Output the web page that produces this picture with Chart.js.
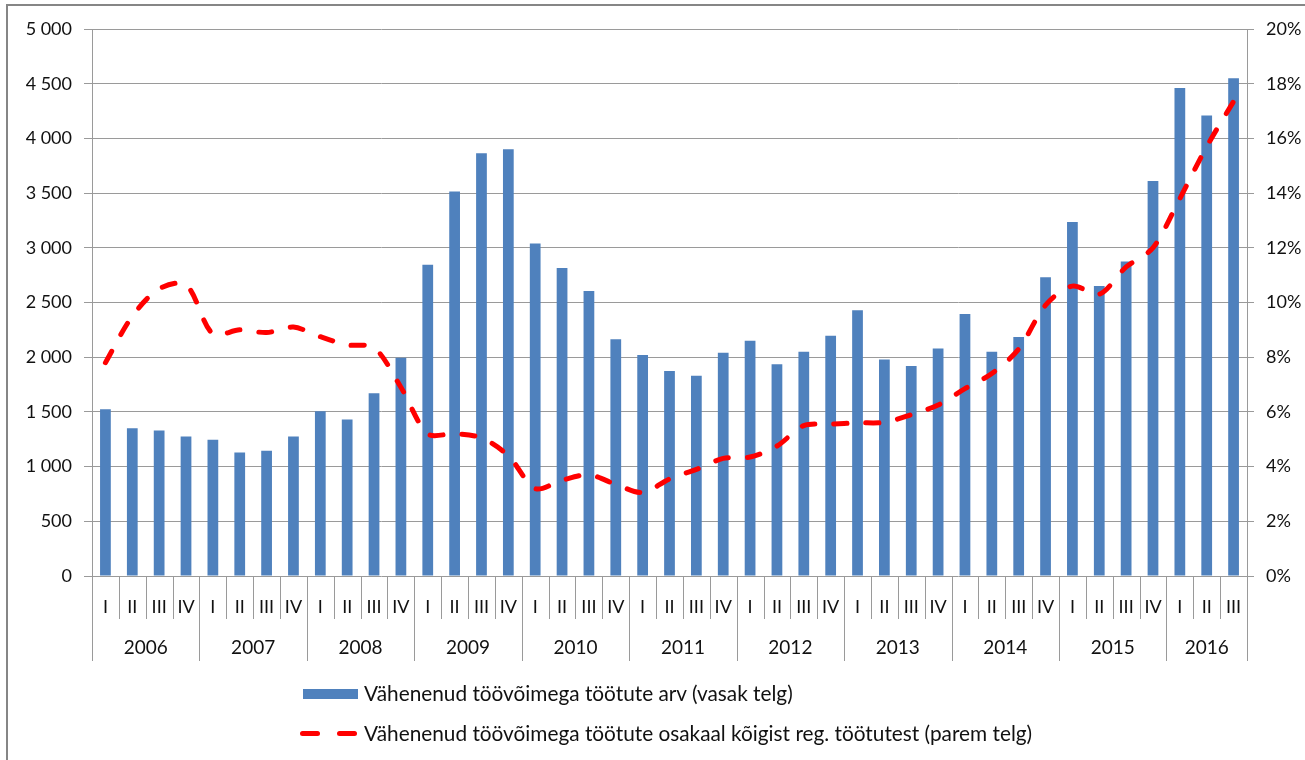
<!DOCTYPE html>
<html><head><meta charset="utf-8">
<script src="https://cdn.jsdelivr.net/npm/chart.js@4.4.0/dist/chart.umd.min.js"></script>
<style>
html,body{margin:0;padding:0;background:#fff;}
#wrap{position:relative;width:1305px;height:760px;overflow:hidden;background:#fff;}
#frame{position:absolute;left:6px;top:4px;width:1400px;height:800px;border-left:2px solid #868686;border-top:2px solid #868686;pointer-events:none;}
#c{position:absolute;left:0;top:0;}
.lg{position:absolute;left:0;top:0;font-family:Lato,sans-serif;font-size:20.8px;color:#111;white-space:nowrap;}
</style></head>
<body><div id="wrap"><canvas id="c" width="1305" height="760"></canvas><div id="frame"></div><div id="legend"></div></div>
<script>
const quarterLabels = ['I','II','III','IV','I','II','III','IV','I','II','III','IV','I','II','III','IV','I','II','III','IV','I','II','III','IV','I','II','III','IV','I','II','III','IV','I','II','III','IV','I','II','III','IV','I','II','III'];
const yearLabels = ['2006','2007','2008','2009','2010','2011','2012','2013','2014','2015','2016'];
const quartersPerYear = [4,4,4,4,4,4,4,4,4,4,3];
const countValues = [1525,1350,1330,1275, 1245,1130,1145,1275, 1505,1430,1670,1995, 2845,3515,3865,3900, 3040,2815,2605,2165, 2020,1875,1830,2040, 2150,1935,2050,2195, 2430,1980,1920,2080, 2395,2050,2185,2730, 3235,2650,2875,3610, 4460,4210,4550];
const shareValues = [7.8,9.5,10.5,10.65, 8.85,9.0,8.9,9.1, 8.75,8.45,8.35,6.9, 5.2,5.2,5.05,4.4, 3.2,3.5,3.7,3.35, 3.05,3.55,3.9,4.3, 4.35,4.75,5.5,5.55, 5.6,5.62,5.9,6.25, 6.85,7.4,8.3,9.9, 10.6,10.3,11.3,12.0, 13.8,15.7,17.35];
const leftTicks = ['0','500','1 000','1 500','2 000','2 500','3 000','3 500','4 000','4 500','5 000'];
const rightTicks = ['0%','2%','4%','6%','8%','10%','12%','14%','16%','18%','20%'];
const seriesNames = ['Vähenenud töövõimega töötute arv (vasak telg)','Vähenenud töövõimega töötute osakaal kõigist reg. töötutest (parem telg)'];

const GRID = '#9a9a9a';
const FONT = 'Lato';

const yearRowPlugin = {
  id: 'yearRow',
  afterDraw(chart) {
    const x = chart.scales.x, ctx = chart.ctx, b = chart.chartArea.bottom;
    ctx.save();
    ctx.strokeStyle = GRID; ctx.lineWidth = 1;
    const yearEdges = new Set();
    let idx = 0; yearEdges.add(-0.5);
    quartersPerYear.forEach(n => { idx += n; yearEdges.add(idx - 0.5); });
    for (let i = 0; i <= quarterLabels.length; i++) {
      const px = Math.round(x.getPixelForValue(i - 0.5)) + 0.5;
      const end = yearEdges.has(i - 0.5) ? b + 85 : b + 43;
      ctx.beginPath(); ctx.moveTo(px, b); ctx.lineTo(px, end); ctx.stroke();
    }
    ctx.fillStyle = '#111'; ctx.font = '19px ' + FONT; ctx.textAlign = 'center'; ctx.textBaseline = 'middle';
    let start = 0;
    yearLabels.forEach((yl, k) => {
      const n = quartersPerYear[k];
      const cx = (x.getPixelForValue(start - 0.5) + x.getPixelForValue(start + n - 0.5)) / 2;
      ctx.fillText(yl, cx, b + 72);
      start += n;
    });
    ctx.restore();
  }
};

const chart = new Chart(document.getElementById('c'), {
  type: 'bar',
  data: {
    labels: quarterLabels,
    datasets: [
      { type: 'line', label: seriesNames[1], data: shareValues, yAxisID: 'y1', borderColor: '#ff0000', borderWidth: 5, borderDash: [13, 19], borderCapStyle: 'round', pointRadius: 0, tension: 0.3, fill: false, order: 0 },
      { type: 'bar', label: seriesNames[0], data: countValues, yAxisID: 'y', backgroundColor: '#4f81bd', borderWidth: 0, categoryPercentage: 1, barPercentage: 0.4, order: 1 }
    ]
  },
  options: {
    responsive: false, animation: false, devicePixelRatio: 1,
    layout: { padding: { top: 29, left: 0, right: 0, bottom: 94 } },
    plugins: { legend: { display: false }, tooltip: { enabled: false } },
    scales: {
      x: {
        offset: true,
        grid: { display: false },
        border: { display: false },
        ticks: { autoSkip: false, maxRotation: 0, padding: 12, color: '#111', font: { family: FONT, size: 18 } },
        afterFit(s) { s.height = 90; }
      },
      y: {
        position: 'left', min: 0, max: 5000,
        afterBuildTicks(s) { s.ticks = leftTicks.map((t, i) => ({ value: i * 500 })); },
        ticks: { padding: 12, color: '#111', font: { family: FONT, size: 18 }, callback: (v, i) => leftTicks[i] },
        grid: { color: GRID, tickColor: GRID, tickLength: 8, lineWidth: 1 },
        border: { display: true, color: GRID },
        afterFit(s) { s.width = 92; }
      },
      y1: {
        position: 'right', min: 0, max: 20,
        afterBuildTicks(s) { s.ticks = rightTicks.map((t, i) => ({ value: i * 2 })); },
        ticks: { padding: 12, color: '#111', font: { family: FONT, size: 18 }, callback: (v, i) => rightTicks[i] },
        grid: { drawOnChartArea: false, color: GRID, tickColor: GRID, tickLength: 7 },
        border: { display: true, color: GRID },
        afterFit(s) { s.width = 58; }
      }
    }
  },
  plugins: [yearRowPlugin]
});

// HTML legend built from the dataset labels/colours
const lg = document.getElementById('legend');
const barDs = chart.data.datasets[1], lineDs = chart.data.datasets[0];
lg.innerHTML =
  '<div style="position:absolute;left:303px;top:689px;width:55px;height:10px;background:' + barDs.backgroundColor + '"></div>' +
  '<div class="lg" style="left:364px;top:680px;">' + barDs.label + '</div>' +
  '<div style="position:absolute;left:300px;top:731px;width:20px;height:5px;border-radius:3px;background:' + lineDs.borderColor + '"></div>' +
  '<div style="position:absolute;left:337px;top:731px;width:20px;height:5px;border-radius:3px;background:' + lineDs.borderColor + '"></div>' +
  '<div class="lg" style="left:364px;top:720px;">' + lineDs.label + '</div>';
</script></body></html>
